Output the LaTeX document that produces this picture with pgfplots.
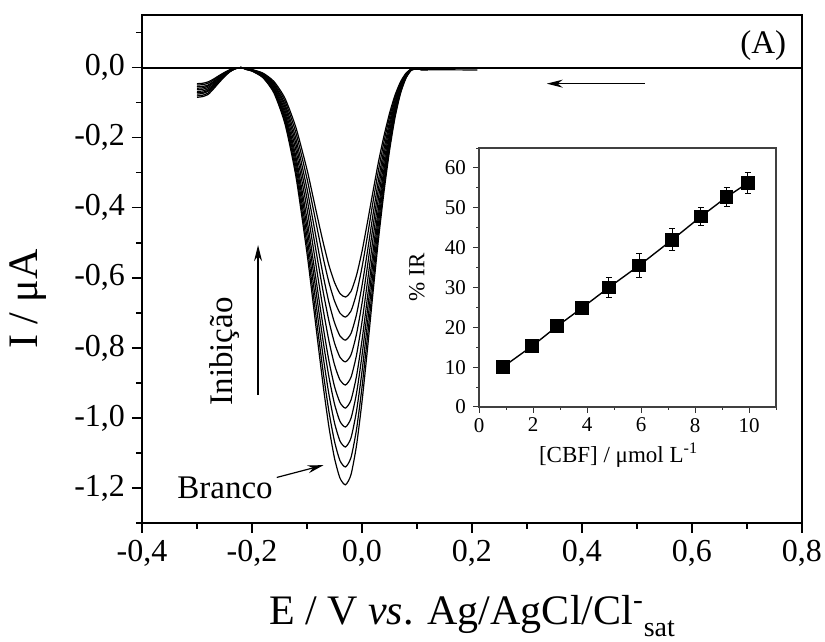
\documentclass[border=0pt]{standalone}
\usepackage{fontspec}
\setmainfont{Liberation Serif}
\usepackage{pgfplots}
\usepackage{pgfplotstable}
\pgfplotsset{compat=1.18}
\usetikzlibrary{arrows.meta}

% voltammograms: blank (c10) down to the last addition (c1)
\pgfplotstableread{
E       c1     c2     c3     c4     c5     c6     c7     c8     c9     c10
-0.300 -0.046 -0.050 -0.055 -0.059 -0.063 -0.068 -0.072 -0.076 -0.081 -0.085
-0.290 -0.045 -0.049 -0.054 -0.058 -0.062 -0.067 -0.071 -0.074 -0.079 -0.083
-0.280 -0.041 -0.045 -0.050 -0.053 -0.057 -0.061 -0.065 -0.068 -0.073 -0.077
-0.270 -0.033 -0.036 -0.040 -0.042 -0.045 -0.049 -0.052 -0.055 -0.058 -0.061
-0.260 -0.023 -0.025 -0.028 -0.030 -0.032 -0.034 -0.036 -0.038 -0.041 -0.043
-0.250 -0.014 -0.015 -0.017 -0.018 -0.019 -0.020 -0.022 -0.023 -0.024 -0.026
-0.240 -0.006 -0.007 -0.008 -0.008 -0.009 -0.010 -0.010 -0.011 -0.011 -0.012
-0.230 -0.002 -0.002 -0.002 -0.002 -0.003 -0.003 -0.003 -0.003 -0.003 -0.003
-0.220  0.000  0.000  0.000  0.000  0.000  0.000  0.000  0.000  0.000  0.000
-0.210 -0.003 -0.003 -0.004 -0.004 -0.004 -0.005 -0.005 -0.005 -0.005 -0.006
-0.200 -0.006 -0.006 -0.007 -0.007 -0.008 -0.008 -0.009 -0.009 -0.010 -0.010
-0.180 -0.016 -0.017 -0.019 -0.020 -0.022 -0.024 -0.025 -0.026 -0.028 -0.029
-0.160 -0.040 -0.044 -0.048 -0.051 -0.055 -0.059 -0.063 -0.066 -0.070 -0.073
-0.140 -0.088 -0.096 -0.105 -0.113 -0.122 -0.131 -0.139 -0.146 -0.154 -0.161
-0.120 -0.172 -0.187 -0.204 -0.220 -0.237 -0.255 -0.269 -0.284 -0.299 -0.312
-0.100 -0.291 -0.317 -0.346 -0.374 -0.403 -0.433 -0.457 -0.482 -0.507 -0.530
-0.090 -0.362 -0.393 -0.429 -0.464 -0.500 -0.537 -0.566 -0.598 -0.629 -0.657
-0.080 -0.434 -0.471 -0.515 -0.556 -0.600 -0.643 -0.679 -0.717 -0.755 -0.788
-0.070 -0.503 -0.547 -0.598 -0.645 -0.696 -0.746 -0.788 -0.832 -0.876 -0.915
-0.060 -0.565 -0.614 -0.671 -0.724 -0.781 -0.838 -0.884 -0.934 -0.983 -1.027
-0.050 -0.613 -0.666 -0.728 -0.786 -0.848 -0.910 -0.960 -1.014 -1.067 -1.115
-0.040 -0.645 -0.701 -0.766 -0.827 -0.892 -0.956 -1.010 -1.066 -1.122 -1.172
-0.030 -0.655 -0.712 -0.778 -0.840 -0.906 -0.972 -1.026 -1.083 -1.140 -1.191
-0.020 -0.639 -0.695 -0.759 -0.820 -0.884 -0.949 -1.001 -1.057 -1.113 -1.162
-0.010 -0.593 -0.645 -0.705 -0.761 -0.821 -0.881 -0.930 -0.981 -1.033 -1.079
 0.000 -0.525 -0.570 -0.623 -0.673 -0.726 -0.779 -0.822 -0.868 -0.913 -0.954
 0.010 -0.441 -0.480 -0.524 -0.566 -0.611 -0.655 -0.692 -0.730 -0.768 -0.803
 0.020 -0.354 -0.384 -0.420 -0.454 -0.489 -0.525 -0.554 -0.585 -0.616 -0.643
 0.030 -0.269 -0.293 -0.320 -0.345 -0.372 -0.400 -0.422 -0.445 -0.469 -0.490
 0.040 -0.195 -0.212 -0.232 -0.250 -0.270 -0.290 -0.306 -0.323 -0.340 -0.355
 0.050 -0.131 -0.142 -0.156 -0.168 -0.181 -0.194 -0.205 -0.217 -0.228 -0.238
 0.060 -0.079 -0.085 -0.093 -0.101 -0.109 -0.117 -0.123 -0.130 -0.137 -0.143
 0.070 -0.041 -0.044 -0.048 -0.052 -0.056 -0.060 -0.064 -0.067 -0.071 -0.074
 0.080 -0.016 -0.018 -0.019 -0.021 -0.023 -0.024 -0.026 -0.027 -0.029 -0.030
 0.090 -0.004 -0.004 -0.005 -0.005 -0.005 -0.006 -0.006 -0.006 -0.007 -0.007
 0.100 -0.005 -0.005 -0.005 -0.005 -0.005 -0.005 -0.005 -0.005 -0.005 -0.005
 0.120 -0.006 -0.006 -0.006 -0.006 -0.006 -0.006 -0.006 -0.006 -0.006 -0.006
 0.210  nan    nan    nan    nan    nan    nan    nan    nan    nan   -0.007
}\curves

% inset: % IR vs [CBF]
\pgfplotstableread{
x     y     err
0.90  10.1  0.8
1.97  15.3  0.8
2.90  20.3  0.9
3.80  24.8  1.0
4.81  30.0  2.4
5.93  35.5  3.0
7.16  42.0  2.8
8.22  47.8  2.3
9.17  52.7  2.5
9.95  56.2  2.7
}\inset

\begin{document}
\begin{tikzpicture}
\useasboundingbox (-71pt,-59.5pt) rectangle (341.5pt,261.5pt);
\begin{axis}[
  scale only axis, width=330pt, height=254pt,
  xmin=-0.4, xmax=0.8, ymin=-1.3, ymax=0.15,
  xtick={-0.4,-0.2,0,0.2,0.4,0.6,0.8},
  minor xtick={-0.3,-0.1,0.1,0.3,0.5,0.7},
  ytick={-1.2,-1.0,-0.8,-0.6,-0.4,-0.2,0},
  minor ytick={-1.3,-1.1,-0.9,-0.7,-0.5,-0.3,-0.1,0.1},
  xtick pos=left, ytick pos=left, tick align=outside,
  major tick length=5pt, minor tick length=3pt,
  tick style={black, line width=0.8pt},
  axis line style={line width=1pt},
  ticklabel style={font=\fontsize{16}{18}\selectfont},
  /pgf/number format/use comma, /pgf/number format/fixed,
  /pgf/number format/fixed zerofill, /pgf/number format/precision=1,
  /pgf/number format/assume math mode=true,
  xlabel={E / V \textit{vs}. Ag/AgCl/Cl\textsuperscript{-}\raisebox{-6pt}{\fontsize{14}{14}\selectfont sat}},
  xlabel style={font=\fontsize{21}{24}\selectfont, at={(rel axis cs:0.5,-0.2)}, anchor=base},
  ylabel={I / μA},
  ylabel style={font=\fontsize{21}{24}\selectfont, at={(rel axis cs:-0.173,0.441)}, anchor=center},
  clip=false]
  \pgfplotsinvokeforeach{1,...,10}{
    \addplot[black, line width=0.6pt, smooth, tension=0.4] table[x=E, y=c#1] {\curves};
  }
  \addplot[black, line width=1pt] coordinates {(-0.4,0) (0.8,0)};
  \node[font=\fontsize{16.5}{18}\selectfont] at (axis cs:-0.249,-1.2) {Branco};
  \draw[-{Stealth[length=8pt,width=4pt]}, line width=0.6pt] (axis cs:-0.155,-1.17) -- (axis cs:-0.07,-1.135);
  \node[font=\fontsize{16.5}{18}\selectfont, rotate=90] at (axis cs:-0.249,-0.81) {Inibição};
  \draw[-{Stealth[length=8pt,width=4pt]}, line width=0.6pt] (axis cs:-0.189,-0.934) -- (axis cs:-0.189,-0.507);
  \draw[-{Stealth[length=8pt,width=4pt]}, line width=0.6pt] (axis cs:0.514,-0.046) -- (axis cs:0.336,-0.046);
  \node[font=\fontsize{16.5}{18}\selectfont, anchor=east] at (axis cs:0.784,0.063) {(A)};
\end{axis}
\begin{axis}[
  at={(168.5pt,58pt)}, anchor=south west,
  scale only axis, width=148.5pt, height=129.5pt,
  xmin=0, xmax=11, ymin=0, ymax=65,
  xtick={0,2,4,6,8,10}, minor xtick={1,3,5,7,9,11},
  ytick={0,10,20,30,40,50,60}, minor ytick={5,15,25,35,45,55,65},
  xtick pos=left, ytick pos=left, tick align=outside,
  major tick length=3pt, minor tick length=1.5pt,
  tick style={black!80, line width=0.5pt},
  axis line style={black!75, line width=0.6pt},
  ticklabel style={font=\fontsize{10.5}{12}\selectfont},
  xticklabel style={yshift=1pt},
  /pgf/number format/assume math mode=true,
  xlabel={[CBF] / μmol L\textsuperscript{-1}},
  xlabel style={font=\fontsize{11.5}{13}\selectfont, at={(rel axis cs:0.47,-0.215)}, anchor=base},
  ylabel={\% IR},
  ylabel style={font=\fontsize{11.5}{13}\selectfont, at={(rel axis cs:-0.209,0.5)}, anchor=center}]
  \addplot[black, line width=0.7pt, mark=square*, mark size=3.1pt,
    error bars/.cd, y dir=both, y explicit,
    error bar style={line width=0.5pt},
    error mark options={rotate=90, mark size=1.5pt, line width=0.5pt}]
    table[x=x, y=y, y error=err] {\inset};
\end{axis}
\end{tikzpicture}
\end{document}
